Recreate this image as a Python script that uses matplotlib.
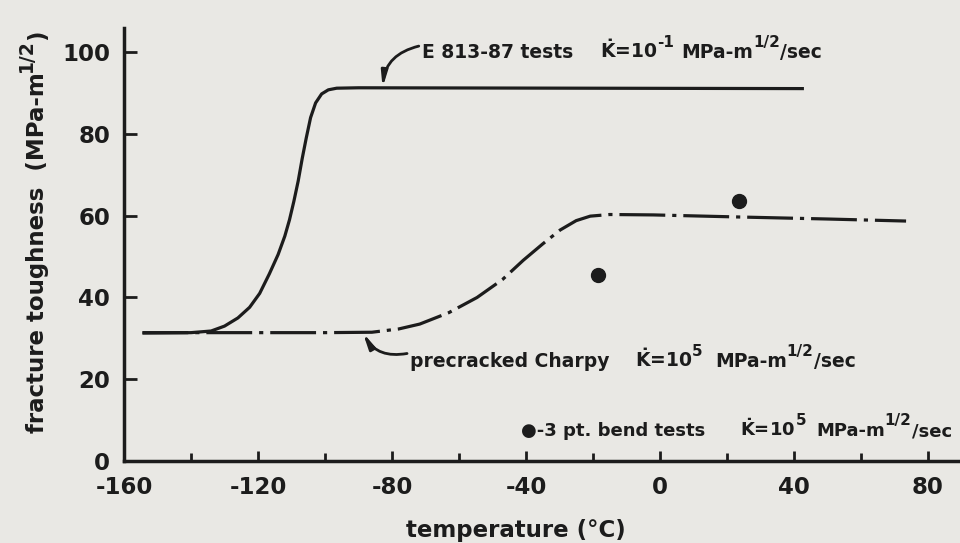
import numpy as np
import matplotlib
matplotlib.use("Agg")
import matplotlib.pyplot as plt
from matplotlib.transforms import IdentityTransform

plt.rcParams['font.family'] = ['DejaVu Sans']
plt.rcParams['font.weight'] = 'bold'
plt.rcParams['axes.unicode_minus'] = False
plt.rcParams['mathtext.fontset'] = 'custom'
plt.rcParams['mathtext.rm'] = 'DejaVu Sans:bold'
plt.rcParams['mathtext.it'] = 'DejaVu Sans:bold'
plt.rcParams['mathtext.bf'] = 'DejaVu Sans:bold'
plt.rcParams['lines.scale_dashes'] = False

# E 813-87 tests (solid curve)
e813_temp = [-154.5, -140, -134, -130, -126, -122.5, -119.5, -116.6, -114, -112,
             -110.6, -109.3, -108, -106.8, -105.6, -104.3, -102.8, -101, -99, -96.5,
             -90, 43]
e813_k = [31.3, 31.4, 31.8, 33.0, 35.0, 37.6, 41.0, 45.8, 50.5, 55.0,
          59.0, 63.5, 68.5, 74.0, 79.0, 84.0, 87.6, 89.8, 90.8, 91.2,
          91.3, 91.1]

# precracked Charpy (dash-dot curve)
charpy_temp = [-154.5, -120, -100, -86, -78, -71.7, -63, -54.6, -47, -40.8,
               -35, -29.8, -25, -20.8, -15, -1.9, 23.2, 50, 73.5]
charpy_k = [31.4, 31.4, 31.4, 31.5, 32.3, 33.5, 36.3, 40.0, 44.4, 49.1,
            53.1, 56.5, 58.8, 59.9, 60.3, 60.2, 59.7, 59.2, 58.7]

# 3 pt. bend tests (dots)
bend_temp = [-18.5, 23.5]
bend_k = [45.4, 63.6]

bg = '#e9e8e4'
ink = '#1c1c1c'

fig = plt.figure(figsize=(9.6, 5.43), dpi=100, facecolor=bg)
ax = fig.add_axes([0.1292, 0.151, 0.8708, 0.798], facecolor=bg)

ax.plot(e813_temp, e813_k, color=ink, lw=2.3, solid_capstyle='butt')
ax.plot(charpy_temp, charpy_k, color=ink, lw=2.3,
        linestyle=(0, (33, 5, 3, 5)), dash_capstyle='butt')
ax.plot(bend_temp, bend_k, 'o', color=ink, ms=10, mec=ink)

ax.set_xlim(-160, 89.6)
ax.set_ylim(0, 106)
for s in ['top', 'right']:
    ax.spines[s].set_visible(False)
for s in ['left', 'bottom']:
    ax.spines[s].set_linewidth(2.5)
    ax.spines[s].set_color(ink)

ax.set_xticks([-160, -120, -80, -40, 0, 40, 80])
ax.set_xticks([-140, -100, -60, -20, 20, 60], minor=True)
ax.set_yticks([0, 20, 40, 60, 80, 100])
ax.tick_params(axis='x', which='major', direction='in', length=7, width=2, pad=11,
               labelsize=16.5, colors=ink)
ax.tick_params(axis='x', which='minor', direction='in', length=5.5, width=2, colors=ink)
ax.tick_params(axis='y', direction='in', length=9, width=2, pad=10, labelsize=16.5,
               colors=ink)

rend = fig.canvas.get_renderer()


def put_text(pieces, x0, y0, rot=0, size=13, sup_size=11, rise=11):
    # pieces: (string, start x in data or None to follow on, superscript?)
    cur = None
    for s, x, sup in pieces:
        if x is not None:
            cur = list(ax.transData.transform((x, y0)))
        r = rise if sup else 0
        pos = (cur[0], cur[1] + r) if rot == 0 else (cur[0] - r, cur[1])
        t = fig.text(pos[0], pos[1], s, transform=IdentityTransform(),
                     fontsize=sup_size if sup else size, fontweight='bold', color=ink,
                     rotation=rot, rotation_mode='anchor', ha='left', va='baseline')
        bb = t.get_window_extent(rend)
        if rot == 0:
            cur[0] += bb.width
        else:
            cur[1] += bb.height


put_text([('E 813-87 tests', -71.0, False),
          (r'$\dot{K}$=10', -17.9, False), ('-1', None, True),
          ('MPa-m', 6.5, False), ('1/2', None, True), ('/sec', None, False)],
         0, 98.5, size=13.5)
put_text([('precracked Charpy', -74.6, False),
          (r'$\dot{K}$=10', -7.5, False), ('5', None, True),
          ('MPa-m', 16.4, False), ('1/2', None, True), ('/sec', None, False)],
         0, 23.0, size=13.5)
put_text([('●-3 pt. bend tests', -41.5, False),
          (r'$\dot{K}$=10', 24.0, False), ('5', None, True),
          ('MPa-m', 46.6, False), ('1/2', None, True), ('/sec', None, False)], 0, 6.1)

# y axis title, drawn upward from its bottom end
put_text([('fracture toughness  (MPa-m', -184.0, False), ('1/2', None, True),
          (')', None, False)], 0, 6.8, rot=90, size=16.5, sup_size=13.5, rise=12)

fig.text(516 / 960, 1 - 530 / 543, 'temperature (°C)', fontsize=16.5, fontweight='bold',
         color=ink, ha='center', va='center')

arrow = dict(arrowstyle='-|>,head_length=0.9,head_width=0.18', color=ink, lw=2.0,
             shrinkA=0, shrinkB=0)
ax.annotate('', xy=(-82.8, 91.3), xytext=(-72.0, 101.5),
            arrowprops=dict(connectionstyle='arc3,rad=0.35', **arrow))
ax.annotate('', xy=(-88.7, 31.4), xytext=(-75.5, 26.3),
            arrowprops=dict(connectionstyle='arc3,rad=-0.35', **arrow))

fig.savefig('out.png', dpi=100, facecolor=bg)
